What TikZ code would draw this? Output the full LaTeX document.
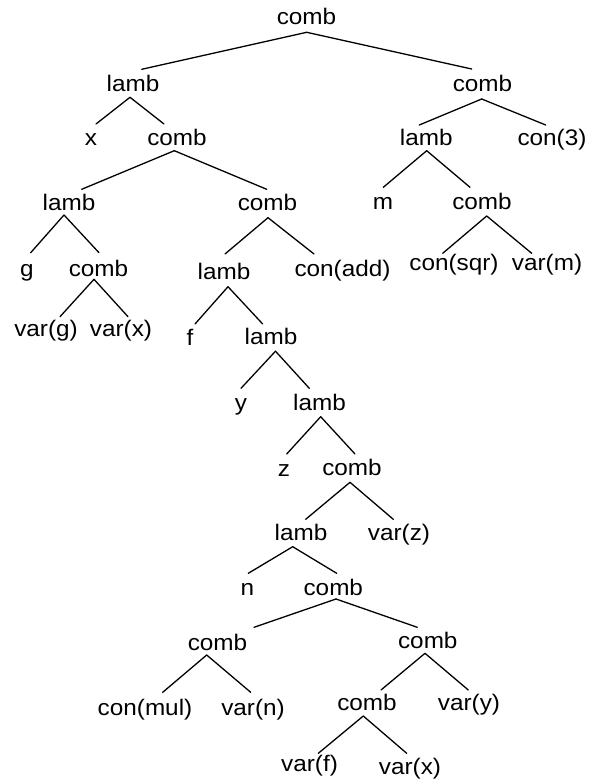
\documentclass[tikz,border=0pt]{standalone}
\usepackage{fontspec}
\setmainfont{Liberation Sans}
\newcommand\lbl[1]{\scalebox{1.08}[1]{#1}}
\newcommand\tedge[6]{\draw[conn] ([shift={(#2,#3)}]#1.base) -- ([shift={(#5,#6)}]#4.base);}
\begin{document}
\begin{tikzpicture}[x=1pt,y=-1pt,
  t/.style={anchor=base,inner sep=0pt,font=\fontsize{22.5}{24}\selectfont},
  conn/.style={line width=1.3pt,line cap=round}]
\useasboundingbox (0,0) rectangle (600,781);
\node[t] (root) at (306.5,25) {\lbl{comb}};
\node[t] (lA) at (133,91.7) {\lbl{lamb}};
\node[t] (cB) at (482.5,92) {\lbl{comb}};
\node[t] (x1) at (91,145) {\lbl{x}};
\node[t] (cC) at (177,146) {\lbl{comb}};
\node[t] (lD) at (426.2,145.7) {\lbl{lamb}};
\node[t] (k3) at (552,145.7) {\lbl{con(3)}};
\node[t] (lE) at (69,210) {\lbl{lamb}};
\node[t] (cF) at (267.5,210) {\lbl{comb}};
\node[t] (m) at (383,209) {\lbl{m}};
\node[t] (cG) at (482,209) {\lbl{comb}};
\node[t] (g) at (27,276.7) {\lbl{g}};
\node[t] (cH) at (98.5,276) {\lbl{comb}};
\node[t] (lI) at (224,279) {\lbl{lamb}};
\node[t] (kadd) at (342.5,276.7) {\lbl{con(add)}};
\node[t] (ksqr) at (454,270) {\lbl{con(sqr)}};
\node[t] (vm) at (547,270) {\lbl{var(m)}};
\node[t] (vg) at (46,336.7) {\lbl{var(g)}};
\node[t] (vx) at (121,336.7) {\lbl{var(x)}};
\node[t] (f) at (190,345) {\lbl{f}};
\node[t] (lJ) at (271,344) {\lbl{lamb}};
\node[t] (y) at (241,410) {\lbl{y}};
\node[t] (lK) at (319.5,410.7) {\lbl{lamb}};
\node[t] (z) at (284,476.7) {\lbl{z}};
\node[t] (cL) at (352,475) {\lbl{comb}};
\node[t] (lM) at (301,540) {\lbl{lamb}};
\node[t] (vz) at (399,540) {\lbl{var(z)}};
\node[t] (n) at (247.5,595) {\lbl{n}};
\node[t] (cN) at (333.3,595) {\lbl{comb}};
\node[t] (cO) at (217.5,650.7) {\lbl{comb}};
\node[t] (cP) at (427.8,648.3) {\lbl{comb}};
\node[t] (kmul) at (145,715) {\lbl{con(mul)}};
\node[t] (vn) at (253,715) {\lbl{var(n)}};
\node[t] (cQ) at (367,710) {\lbl{comb}};
\node[t] (vy) at (469,710) {\lbl{var(y)}};
\node[t] (vf) at (309.5,771.7) {\lbl{var(f)}};
\node[t] (vx2) at (410,774) {\lbl{var(x)}};
\tedge{root}{0.2}{7.3}{lA}{8.7}{-22.4}
\tedge{root}{0.2}{7.3}{cB}{-10.8}{-23}
\tedge{lA}{-3}{5.6}{x1}{5}{-21}
\tedge{lA}{-3}{5.6}{cC}{-13}{-22}
\tedge{cB}{-0.8}{7}{lD}{-6.9}{-20.7}
\tedge{cB}{-0.8}{7}{k3}{-6.3}{-20.7}
\tedge{cC}{-2.7}{4.7}{lE}{12.7}{-20.7}
\tedge{cC}{-2.7}{4.7}{cF}{-0.8}{-20.7}
\tedge{lD}{0.5}{5}{m}{0.3}{-21.7}
\tedge{lD}{0.5}{5}{cG}{-12}{-21.7}
\tedge{lE}{-5}{5}{g}{3.7}{-24}
\tedge{lE}{-5}{5}{cH}{0.5}{-23.3}
\tedge{cF}{0.5}{7.7}{lI}{1}{-25}
\tedge{cF}{0.5}{7.7}{kadd}{-28.5}{-22.7}
\tedge{cG}{4.7}{7}{ksqr}{-11.3}{-16.7}
\tedge{cG}{4.7}{7}{vm}{-15.3}{-16.7}
\tedge{cH}{-4.5}{3.3}{vg}{14}{-20}
\tedge{cH}{-4.5}{3.3}{vx}{7}{-20}
\tedge{lI}{4}{7.7}{f}{5}{-21}
\tedge{lI}{4}{7.7}{lJ}{-8.3}{-20}
\tedge{lJ}{4.5}{7.2}{y}{0}{-21.7}
\tedge{lJ}{4.5}{7.2}{lK}{-10.2}{-22.4}
\tedge{lK}{1.2}{6}{z}{2.7}{-22.7}
\tedge{lK}{1.2}{6}{cL}{3}{-21}
\tedge{cL}{-2}{7.3}{lM}{4.7}{-20.7}
\tedge{cL}{-2}{7.3}{vz}{-5.7}{-20.7}
\tedge{lM}{-8.3}{6.7}{n}{0.8}{-21.7}
\tedge{lM}{-8.3}{6.7}{cN}{3.4}{-21.7}
\tedge{cN}{2.7}{4}{cO}{36.5}{-23.4}
\tedge{cN}{2.7}{4}{cP}{-10.5}{-21}
\tedge{cO}{-10.8}{4.3}{kmul}{17.7}{-22.7}
\tedge{cO}{-10.8}{4.3}{vn}{-2.3}{-22.7}
\tedge{cP}{-2.8}{5}{cQ}{14}{-20}
\tedge{cP}{-2.8}{5}{vy}{-0.7}{-20}
\tedge{cQ}{-3.7}{6}{vf}{8.8}{-18.4}
\tedge{cQ}{-3.7}{6}{vx2}{-3.3}{-20.7}
\end{tikzpicture}
\end{document}
